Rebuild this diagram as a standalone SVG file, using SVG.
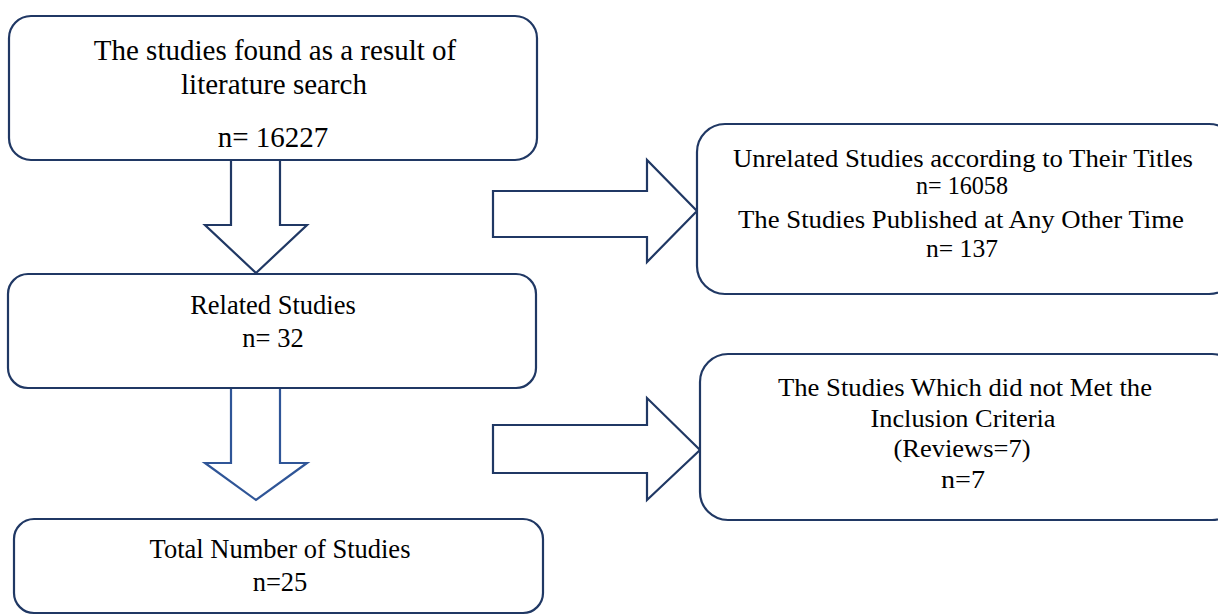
<svg xmlns="http://www.w3.org/2000/svg" width="1218" height="615" viewBox="0 0 1218 615">
<style>
.box{fill:#fff;stroke:#203864;stroke-width:2.2}
.arr{fill:#fff;stroke:#203864;stroke-width:2.2;stroke-linejoin:miter}
.arr2{fill:#fff;stroke:#2f5597;stroke-width:2.2}
text{font-family:"Liberation Serif","Times New Roman",serif;fill:#000;text-anchor:middle}
.t1{font-size:29px}
.t2{font-size:26.5px}
.t3{font-size:25px}
</style>
<rect width="1218" height="615" fill="#fff"/>
<g id="connectors">
<polygon class="arr" points="231,160 280,160 280,225 307,225 256,273 205,225 231,225"/>
<polygon class="arr2" points="231,388 280,388 280,463 307,463 256,500 205,463 231,463"/>
<polygon class="arr" points="493,191 647,191 647,160 697,211 647,262 647,237 493,237"/>
<polygon class="arr" points="493,425 647,425 647,398 700,450 647,500 647,473 493,473"/>
</g>
<g id="n1">
<rect class="box" x="9" y="16" width="528" height="144" rx="22"/>
<text class="t1" x="275" y="60">The studies found as a result of</text>
<text class="t1" x="274" y="94">literature search</text>
<text class="t1" x="273" y="147">n= 16227</text>
</g>
<g id="n2">
<rect class="box" x="8" y="274" width="528" height="114" rx="20"/>
<text class="t2" x="273" y="314">Related Studies</text>
<text class="t2" x="273" y="347">n= 32</text>
</g>
<g id="n3">
<rect class="box" x="14" y="519" width="529" height="94" rx="20"/>
<text class="t2" x="280" y="558">Total Number of Studies</text>
<text class="t2" x="280" y="591">n=25</text>
</g>
<g id="n4">
<rect class="box" x="697" y="124" width="540" height="170" rx="28"/>
<text class="t3" x="963" y="167" textLength="460" lengthAdjust="spacingAndGlyphs">Unrelated Studies according to Their Titles</text>
<text class="t3" x="962" y="194" textLength="92" lengthAdjust="spacingAndGlyphs">n= 16058</text>
<text class="t3" x="961" y="228" textLength="446" lengthAdjust="spacingAndGlyphs">The Studies Published at Any Other Time</text>
<text class="t3" x="962" y="257" textLength="72" lengthAdjust="spacingAndGlyphs">n= 137</text>
</g>
<g id="n5">
<rect class="box" x="700" y="354" width="540" height="166" rx="28"/>
<text class="t3" x="965" y="396" textLength="374" lengthAdjust="spacingAndGlyphs">The Studies Which did not Met the</text>
<text class="t3" x="963" y="427" textLength="185" lengthAdjust="spacingAndGlyphs">Inclusion Criteria</text>
<text class="t3" x="962" y="457" textLength="137" lengthAdjust="spacingAndGlyphs">(Reviews=7)</text>
<text class="t3" x="963" y="488" textLength="44" lengthAdjust="spacingAndGlyphs">n=7</text>
</g>
</svg>
